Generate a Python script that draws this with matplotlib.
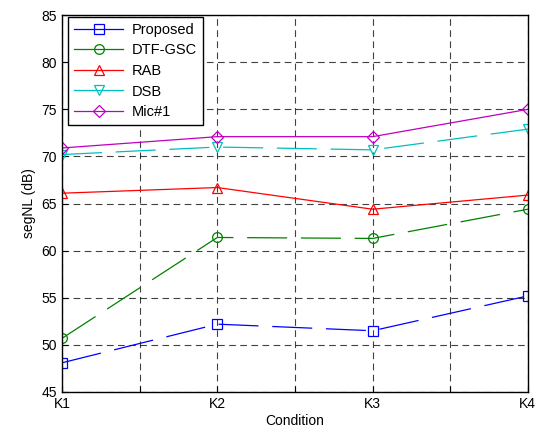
import matplotlib
matplotlib.use("Agg")
import matplotlib.pyplot as plt
from matplotlib.lines import Line2D

plt.rcParams['font.family'] = ['Liberation Sans', 'DejaVu Sans']

conditions = ["K1", "K2", "K3", "K4"]
proposed = [48.1, 52.2, 51.5, 55.2]
dtf_gsc = [50.7, 61.4, 61.3, 64.4]
rab = [66.1, 66.7, 64.4, 65.9]
dsb = [70.2, 71.0, 70.7, 72.9]
mic1 = [70.9, 72.1, 72.1, 75.0]

series = [
    ("Proposed", proposed, (0, 0, 1), 's', (0, (32, 11))),
    ("DTF-GSC", dtf_gsc, (0, 0.5, 0), 'o', (0, (32, 11))),
    ("RAB", rab, (1, 0, 0), '^', '-'),
    ("DSB", dsb, (0, 0.75, 0.75), 'v', (0, (32, 11))),
    ("Mic#1", mic1, (0.75, 0, 0.75), 'D', '-'),
]

fig = plt.figure(figsize=(5.37, 4.32), dpi=100)
ax = fig.add_axes([0.1155, 0.0926, 0.8675, 0.8724])

x = list(range(1, len(conditions) + 1))
handles = []
for name, vals, col, mk, ls in series:
    ms = 6 if mk == 'D' else 7
    ax.plot(x, vals, color=col, linestyle=ls, linewidth=0.9, marker=mk,
            markersize=ms, markerfacecolor='none', markeredgecolor=col,
            markeredgewidth=0.9)
    handles.append(Line2D([0], [0], color=col, linestyle='-', linewidth=0.9,
                          marker=mk, markersize=ms, markerfacecolor='none',
                          markeredgecolor=col, markeredgewidth=0.9))

ax.set_xlim(1, 4)
ax.set_ylim(45, 85)
xt = [1, 1.5, 2, 2.5, 3, 3.5, 4]
ax.set_xticks(xt)
ax.set_xticklabels(["K1", "", "K2", "", "K3", "", "K4"])
ax.set_yticks(range(45, 90, 5))
ax.tick_params(direction='in', length=4, labelsize=10, top=False, right=False)
ax.grid(True, color='k', linestyle=(0, (6, 4)), linewidth=0.8, alpha=0.75)
ax.set_axisbelow(True)
for s in ax.spines.values():
    s.set_linewidth(1.0)
ax.set_xlabel("Condition", fontsize=10, labelpad=2)
ax.set_ylabel("segNL (dB)", fontsize=10, labelpad=4)

leg = ax.legend(handles, [s[0] for s in series], loc='upper left',
                bbox_to_anchor=(0.013, 0.995), fontsize=10.5, fancybox=False,
                framealpha=1, edgecolor='k', handlelength=3.4,
                borderaxespad=0.0, labelspacing=0.45, handletextpad=0.6)
leg.get_frame().set_linewidth(1.0)

fig.savefig("out.png", dpi=100)
